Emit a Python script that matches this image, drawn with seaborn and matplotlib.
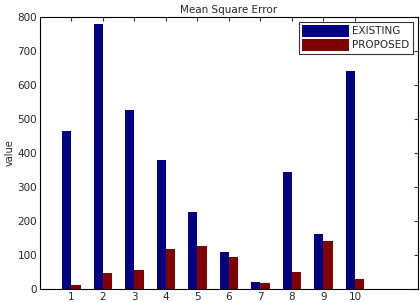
import matplotlib
matplotlib.use("Agg")
import matplotlib.pyplot as plt
import seaborn as sns
import pandas as pd

runs = [1, 2, 3, 4, 5, 6, 7, 8, 9, 10]
existing = [465, 780, 526, 379, 226, 109, 21, 344, 162, 640]
proposed = [12, 48, 56, 118, 126, 95, 17, 50, 141, 28]

df = pd.DataFrame({
    "run": runs * 2,
    "value": existing + proposed,
    "method": ["EXISTING"] * len(runs) + ["PROPOSED"] * len(runs),
})

sns.set_style("white")
plt.rcParams['font.family'] = ['DejaVu Sans']

fig = plt.figure(figsize=(4.2, 3.02), dpi=100)
ax = fig.add_axes([0.095, 0.043, 0.9, 0.901])

sns.barplot(data=df, x="run", y="value", hue="method",
            palette={"EXISTING": "#000080", "PROPOSED": "#800000"},
            width=0.58, gap=0, saturation=1, errorbar=None,
            linewidth=0, ax=ax)

ax.set_xlim(-1, 11)
ax.set_ylim(0, 800)
ax.set_yticks(range(0, 801, 100))
ax.set_xlabel("")
ax.set_ylabel("value", fontsize=7, labelpad=2)
ax.set_title("Mean Square Error", fontsize=7.5, pad=3)
ax.tick_params(direction="in", length=3, labelsize=7.5, top=True, right=True,
               pad=2, color="#333333")
for s in ax.spines.values():
    s.set_color("black")
    s.set_linewidth(0.8)

leg = ax.legend(loc="upper right", fontsize=7.5, frameon=True, fancybox=False,
                handlelength=4.5, handleheight=1.3, borderaxespad=0.45,
                labelspacing=0.25, handletextpad=0.3, borderpad=0.35)
leg.get_frame().set_edgecolor("black")
leg.get_frame().set_linewidth(0.8)

fig.savefig("out.png", dpi=100)
